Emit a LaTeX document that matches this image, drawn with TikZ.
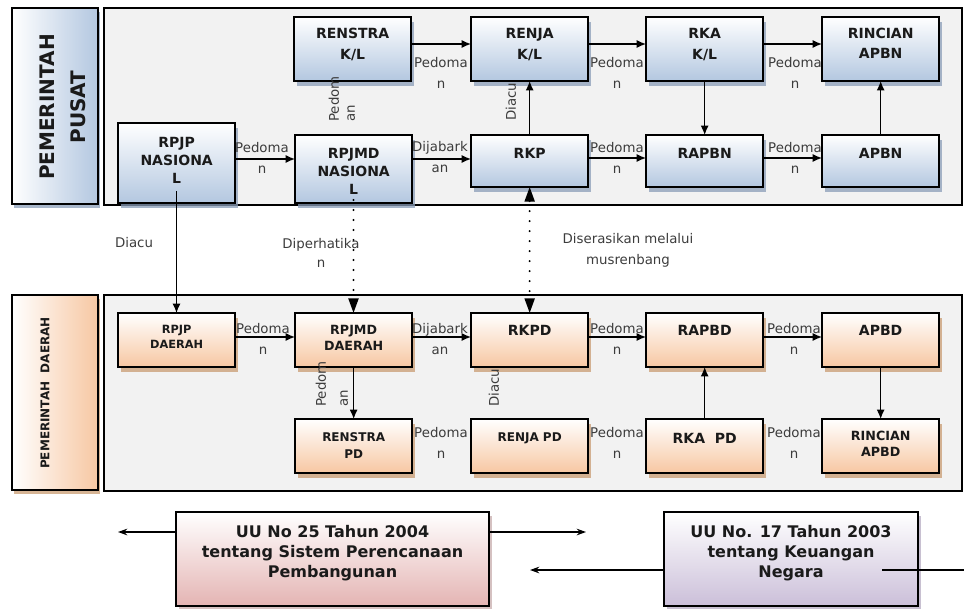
\documentclass[tikz,border=0pt]{standalone}
\usepackage{fontspec}
\setmainfont{DejaVu Sans}
\usetikzlibrary{shadows,arrows.meta}
\definecolor{panelgray}{HTML}{F2F2F2}
\definecolor{blueB}{HTML}{B3C7E0}
\definecolor{blueS}{HTML}{8A9DB8}
\definecolor{peachB}{HTML}{F7C7A2}
\definecolor{peachS}{HTML}{C99C72}
\definecolor{pinkB}{HTML}{E4B4B3}
\definecolor{pinkS}{HTML}{B99898}
\definecolor{lilacB}{HTML}{CBBFD9}
\definecolor{lilacS}{HTML}{A396B3}
\definecolor{lblgray}{HTML}{3C3C3C}
\definecolor{txtdark}{HTML}{1A1A1A}
\begin{document}
\begin{tikzpicture}[x=0.75pt,y=-0.75pt,
  panel/.style={draw=black, line width=1.4pt, fill=panelgray, inner sep=0, outer sep=0, anchor=north west, minimum width=643.5pt},
  sidebox/.style 2 args={draw=black, line width=1.5pt, left color=white, right color=#1, drop shadow={shadow xshift=1.8pt, shadow yshift=-3pt, fill=#2, opacity=0.75}, inner sep=0, outer sep=0, anchor=north west, minimum width=64.5pt},
  bluebox/.style={draw=black, line width=1.6pt, top color=white, bottom color=blueB, drop shadow={shadow xshift=2pt, shadow yshift=-3.5pt, fill=blueS, opacity=0.75}, inner sep=0, outer sep=0, anchor=north west, minimum width=88pt},
  peachbox/.style={draw=black, line width=1.6pt, top color=white, bottom color=peachB, drop shadow={shadow xshift=2pt, shadow yshift=-3.5pt, fill=peachS, opacity=0.75}, inner sep=0, outer sep=0, anchor=north west, minimum width=88pt, minimum height=40.5pt},
  lawbox/.style 2 args={draw=black, line width=1.6pt, top color=white, bottom color=#1, drop shadow={shadow xshift=2pt, shadow yshift=-3pt, fill=#2, opacity=0.6}, inner sep=0, outer sep=0, anchor=north west, minimum height=70.5pt},
  btext/.style={align=center, inner sep=0, text=txtdark, anchor=north},
  bf/.style 2 args={font=\fontsize{#1}{#2}\selectfont\bfseries},
  lbl/.style={font=\fontsize{10}{15.75}\selectfont, text=lblgray, align=center, inner sep=0},
  arr/.style={-{Latex[length=7pt,width=6pt]}, line width=1pt},
  darr/.style={line width=1.6pt, line cap=round, dash pattern=on 0pt off 7.5pt},
  sarr/.style={-{Stealth[length=7pt,width=5pt]}, line width=1pt}
]
\useasboundingbox (0,0) rectangle (964,608);

% panels and side labels
\node[panel, minimum height=147.75pt] (ptop) at (104,8) {};
\node[panel, minimum height=147pt] (pbot) at (104,295) {};
\node[sidebox={blueB}{blueS}, minimum height=147pt] (spusat) at (12,8) {};
\node[sidebox={peachB}{peachS}, minimum height=146.25pt] (sdaerah) at (12,295) {};
\node[font=\fontsize{15}{23}\selectfont\bfseries, rotate=90, align=center, text=txtdark, inner sep=0] (tpusat) at (63,107) {PEMERINTAH\\PUSAT};
\node[font=\fontsize{9}{11}\selectfont\bfseries, rotate=90, align=center, text=txtdark, inner sep=0] (tdaerah) at (45,393) {PEMERINTAH\ \ DAERAH};

% top boxes
\node[bluebox, minimum height=48pt] (renstrakl) at (294,17) {};
\node[bluebox, minimum height=48pt] (renjakl) at (471,17) {};
\node[bluebox, minimum height=48pt] (rkakl) at (646,17) {};
\node[bluebox, minimum height=48pt] (rincapbn) at (822,17) {};
\node[bluebox, minimum height=60pt] (rpjpn) at (118,123) {};
\node[bluebox, minimum height=51pt] (rpjmdn) at (295,135) {};
\node[bluebox, minimum height=39pt] (rkp) at (471,135) {};
\node[bluebox, minimum height=39pt] (rapbn) at (646,135) {};
\node[bluebox, minimum height=39pt] (apbn) at (822,135) {};

% bottom boxes
\node[peachbox] (rpjpd) at (118,313) {};
\node[peachbox] (rpjmdd) at (295,313) {};
\node[peachbox] (rkpd) at (471,313) {};
\node[peachbox] (rapbd) at (646,313) {};
\node[peachbox] (apbd) at (822,313) {};
\node[peachbox] (renstrapd) at (295,419) {};
\node[peachbox] (renjapd) at (471,419) {};
\node[peachbox] (rkapd) at (646,419) {};
\node[peachbox] (rincapbd) at (822,419) {};

% law boxes
\node[lawbox={pinkB}{pinkS}, minimum width=234.75pt] (uu25) at (176,512) {};
\node[lawbox={lilacB}{lilacS}, minimum width=190.5pt] (uu17) at (664,512) {};

% box texts
\node[btext, bf={10.5}{15.75}] (trenstrakl) at ([yshift=-8.25pt]renstrakl.north) {RENSTRA\\K/L};
\node[btext, bf={10.5}{15.75}] (trenjakl) at ([yshift=-8.25pt]renjakl.north) {RENJA\\K/L};
\node[btext, bf={10.5}{15.75}] (trkakl) at ([yshift=-8.25pt]rkakl.north) {RKA\\K/L};
\node[btext, bf={10.5}{15}] (trincapbn) at ([yshift=-8.25pt]rincapbn.north) {RINCIAN\\APBN};
\node[btext, bf={10.5}{13.5}] (trpjpn) at ([yshift=-10.5pt]rpjpn.north) {RPJP\\NASIONA\\L};
\node[btext, bf={10.5}{13.5}] (trpjmdn) at ([yshift=-9.75pt]rpjmdn.north) {RPJMD\\NASIONA\\L};
\node[btext, bf={10.5}{13.5}] (trkp) at ([yshift=-9.75pt]rkp.north) {RKP};
\node[btext, bf={10.5}{13.5}] (trapbn) at ([yshift=-9.75pt]rapbn.north) {RAPBN};
\node[btext, bf={10.5}{13.5}] (tapbn) at ([yshift=-9.75pt]apbn.north) {APBN};

\node[btext, bf={8.5}{11.25}] (trpjpd) at ([yshift=-9pt]rpjpd.north) {RPJP\\DAERAH};
\node[btext, bf={9.5}{12}] (trpjmdd) at ([yshift=-9pt]rpjmdd.north) {RPJMD\\DAERAH};
\node[btext, bf={10.5}{13.5}] (trkpd) at ([yshift=-9pt]rkpd.north) {RKPD};
\node[btext, bf={10.5}{13.5}] (trapbd) at ([yshift=-9pt]rapbd.north) {RAPBD};
\node[btext, bf={10.5}{13.5}] (tapbd) at ([yshift=-9pt]apbd.north) {APBD};
\node[btext, bf={9}{12.75}] (trenstrapd) at ([yshift=-9.75pt]renstrapd.north) {RENSTRA\\PD};
\node[btext, bf={9}{12.75}] (trenjapd) at ([yshift=-9.75pt]renjapd.north) {RENJA PD};
\node[btext, bf={10.5}{13.5}] (trkapd) at ([yshift=-10.5pt]rkapd.north) {RKA\ \ PD};
\node[btext, bf={9.5}{12}] (trincapbd) at ([yshift=-9pt]rincapbd.north) {RINCIAN\\APBD};

\node[btext, bf={12}{15}] (tuu25) at ([yshift=-9.75pt]uu25.north) {UU No 25 Tahun 2004\\tentang Sistem Perencanaan\\Pembangunan};
\node[btext, bf={12}{15}] (tuu17) at ([yshift=-9.75pt]uu17.north) {UU No. 17 Tahun 2003\\tentang Keuangan\\Negara};

% top horizontal arrows
\draw[arr] ([yshift=3.75pt]renstrakl.east) -- ([yshift=3.75pt]renstrakl.east -| renjakl.west);
\draw[arr] ([yshift=3.75pt]renjakl.east) -- ([yshift=3.75pt]renjakl.east -| rkakl.west);
\draw[arr] ([yshift=3.75pt]rkakl.east) -- ([yshift=3.75pt]rkakl.east -| rincapbn.west);
\draw[arr] ([yshift=3pt]rpjpn.east) -- ([yshift=3pt]rpjpn.east -| rpjmdn.west);
\draw[arr] ([yshift=1.5pt]rkp.east -| rpjmdn.east) -- ([yshift=1.5pt]rkp.west);
\draw[arr] ([yshift=2.25pt]rkp.east) -- ([yshift=2.25pt]rapbn.west);
\draw[arr] ([yshift=2.25pt]rapbn.east) -- ([yshift=2.25pt]apbn.west);
% top vertical arrows
\draw[arr] (rkp.north) -- (renjakl.south);
\draw[arr] (rkakl.south) -- (rapbn.north);
\draw[arr] (apbn.north) -- (rincapbn.south);

% bottom arrows
\draw[arr] ([yshift=2.25pt]rpjpd.east) -- ([yshift=2.25pt]rpjmdd.west);
\draw[arr] ([yshift=2.25pt]rpjmdd.east) -- ([yshift=2.25pt]rkpd.west);
\draw[arr] ([yshift=2.25pt]rkpd.east) -- ([yshift=2.25pt]rapbd.west);
\draw[arr] ([yshift=2.25pt]rapbd.east) -- ([yshift=2.25pt]apbd.west);
\draw[arr] (rpjmdd.south) -- (renstrapd.north);
\draw[arr] (rkapd.north) -- (rapbd.south);
\draw[arr] (apbd.south) -- (rincapbd.north);

% between the levels
\coordinate (rpjpnL) at (176.5,191);
\coordinate (rpjmdnL) at (353.5,200);
\draw[arr] (rpjpnL) -- (rpjpnL |- rpjpd.north);
\draw[darr, -{Triangle[length=11pt,width=7.5pt]}] (rpjmdnL) -- (rpjmdnL |- rpjmdd.north);
\draw[darr, {Triangle[length=11pt,width=7.5pt]}-{Triangle[length=11pt,width=7.5pt]}] (rkp.south) -- (rkpd.north);

% law arrows
\coordinate (uul) at (118,532);
\coordinate (uur) at (586,532);
\coordinate (uum) at (530,570);
\coordinate (uuin) at (882,570);
\coordinate (uuout) at (964,570);
\draw[sarr] ([yshift=20.25pt]uu25.west) -- (uul);
\draw[sarr] ([yshift=20.25pt]uu25.east) -- (uur);
\draw[sarr] ([yshift=-8.25pt]uu17.west) -- (uum);
\draw[line width=1pt] (uuin) -- (uuout);

% labels
\node[lbl] (l1) at (441,73) {Pedoma\\n};
\node[lbl] (l2) at (617,73) {Pedoma\\n};
\node[lbl] (l3) at (795,73) {Pedoma\\n};
\node[lbl] (l4) at (262,157.5) {Pedoma\\n};
\node[lbl] (l5) at (440,157.5) {Dijabark\\an};
\node[lbl] (l6) at (617,157.5) {Pedoma\\n};
\node[lbl] (l7) at (795,157.5) {Pedoma\\n};
\node[lbl] (l8) at (263,339) {Pedoma\\n};
\node[lbl] (l9) at (440,339) {Dijabark\\an};
\node[lbl] (l10) at (617,339) {Pedoma\\n};
\node[lbl] (l11) at (794,339) {Pedoma\\n};
\node[lbl] (l12) at (441,443) {Pedoma\\n};
\node[lbl] (l13) at (617,443) {Pedoma\\n};
\node[lbl] (l14) at (794,443) {Pedoma\\n};
\node[lbl, font=\fontsize{10}{12}\selectfont, rotate=90, align=left, anchor=west] (l15) at (342,122) {Pedom\\an};
\node[lbl, font=\fontsize{10}{16.5}\selectfont, rotate=90, align=left, anchor=west] (l16) at (332,407) {Pedom\\an};
\node[lbl, rotate=90] (l17) at (511,102) {Diacu};
\node[lbl, rotate=90] (l18) at (494,388) {Diacu};
\node[lbl] (l19) at (134,243) {Diacu};
\node[lbl, font=\fontsize{10}{14.25}\selectfont] (l20) at (321,252.5) {Diperhatika\\n};
\node[lbl] (l21) at (628,250.5) {Diserasikan melalui\\musrenbang};
\end{tikzpicture}
\end{document}
